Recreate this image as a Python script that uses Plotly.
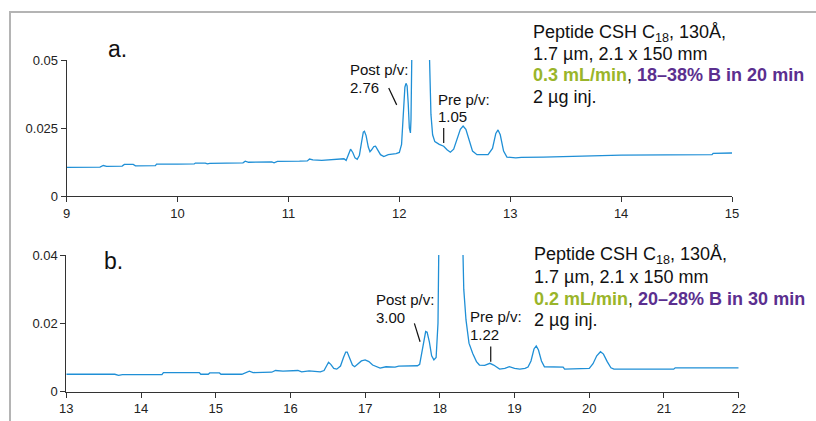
import plotly.graph_objects as go

W, H = 816, 421

# ---------------- data ----------------
time_a = [9.00, 9.30, 9.33, 9.36, 9.50, 9.52, 9.60, 9.62, 9.80, 9.81, 10.00, 10.15, 10.16,
          10.25, 10.27, 10.29, 10.59, 10.61, 10.64, 10.85, 10.87, 10.90, 11.10, 11.17, 11.19,
          11.22, 11.30, 11.45, 11.50, 11.52, 11.54, 11.56, 11.58, 11.60, 11.62, 11.64, 11.66,
          11.675, 11.685, 11.70, 11.72, 11.735, 11.75, 11.77, 11.785, 11.80, 11.83, 11.86,
          11.90, 11.97, 12.00, 12.02, 12.035, 12.05, 12.06, 12.07, 12.08, 12.09, 12.10, 12.105,
          12.115, 12.13, 12.19, 12.26, 12.27, 12.285, 12.30, 12.32, 12.36, 12.40, 12.43, 12.46,
          12.49, 12.52, 12.55, 12.575, 12.60, 12.63, 12.66, 12.70, 12.80, 12.84, 12.87, 12.89,
          12.91, 12.94, 12.97, 13.05, 13.10, 13.30, 13.70, 14.00, 14.82, 14.83, 15.00]
abs_a = [0.0105, 0.0106, 0.0112, 0.0109, 0.0110, 0.0116, 0.0116, 0.0111, 0.0112, 0.0117, 0.0117,
         0.0118, 0.0121, 0.0121, 0.0118, 0.0120, 0.0122, 0.0128, 0.0124, 0.0125, 0.0122, 0.0127,
         0.0128, 0.0129, 0.0136, 0.0133, 0.0131, 0.0137, 0.0137, 0.0131, 0.0155, 0.0172, 0.0160,
         0.0140, 0.0135, 0.0150, 0.0200, 0.0235, 0.0238, 0.0222, 0.0180, 0.0163, 0.0170, 0.0182,
         0.0183, 0.0172, 0.0152, 0.0145, 0.0152, 0.0156, 0.0160, 0.0190, 0.0300, 0.0400, 0.0414,
         0.0405, 0.0340, 0.0250, 0.0232, 0.0280, 0.0600, 0.0900, 0.1200, 0.0700, 0.0500, 0.0300,
         0.0225, 0.0200, 0.0190, 0.0183, 0.0170, 0.0161, 0.0172, 0.0205, 0.0245, 0.0257, 0.0245,
         0.0205, 0.0165, 0.0152, 0.0152, 0.0175, 0.0230, 0.0243, 0.0225, 0.0165, 0.0143, 0.0140,
         0.0142, 0.0143, 0.0147, 0.0150, 0.0152, 0.0157, 0.0158]

time_b = [13.00, 13.65, 13.70, 13.75, 14.28, 14.30, 14.78, 14.80, 14.90, 14.92, 15.05, 15.07,
          15.35, 15.45, 15.50, 15.75, 15.80, 15.90, 16.10, 16.15, 16.25, 16.40, 16.45, 16.48,
          16.51, 16.54, 16.58, 16.62, 16.67, 16.71, 16.74, 16.76, 16.79, 16.83, 16.86, 16.90,
          16.95, 17.00, 17.05, 17.10, 17.15, 17.20, 17.28, 17.40, 17.45, 17.60, 17.70, 17.73,
          17.76, 17.79, 17.81, 17.83, 17.86, 17.89, 17.92, 17.95, 17.975, 17.99, 18.01, 18.15,
          18.29, 18.31, 18.32, 18.35, 18.39, 18.44, 18.49, 18.53, 18.60, 18.67, 18.72, 18.80,
          18.87, 18.93, 19.00, 19.07, 19.14, 19.18, 19.22, 19.26, 19.29, 19.32, 19.36, 19.40,
          19.65, 19.67, 20.00, 20.05, 20.10, 20.15, 20.19, 20.24, 20.29, 20.33, 21.13, 21.15,
          22.00]
abs_b = [0.0051, 0.0051, 0.0048, 0.0050, 0.0050, 0.0056, 0.0056, 0.0051, 0.0051, 0.0055, 0.0055,
         0.0051, 0.0051, 0.0060, 0.0056, 0.0057, 0.0062, 0.0060, 0.0062, 0.0058, 0.0061, 0.0058,
         0.0062, 0.0075, 0.0086, 0.0080, 0.0068, 0.0066, 0.0075, 0.0100, 0.0116, 0.0116, 0.0100,
         0.0078, 0.0073, 0.0080, 0.0090, 0.0093, 0.0088, 0.0078, 0.0073, 0.0069, 0.0073, 0.0072,
         0.0075, 0.0076, 0.0076, 0.0080, 0.0115, 0.0162, 0.0176, 0.0174, 0.0145, 0.0105, 0.0093,
         0.0100, 0.0200, 0.0500, 0.0800, 0.1500, 0.0600, 0.0400, 0.0300, 0.0210, 0.0142, 0.0112,
         0.0088, 0.0078, 0.0077, 0.0083, 0.0078, 0.0066, 0.0068, 0.0073, 0.0068, 0.0066, 0.0068,
         0.0072, 0.0090, 0.0125, 0.0134, 0.0122, 0.0090, 0.0073, 0.0072, 0.0066, 0.0068, 0.0082,
         0.0105, 0.0117, 0.0110, 0.0088, 0.0070, 0.0066, 0.0066, 0.0070, 0.0070]

ticks_a_x = [9, 10, 11, 12, 13, 14, 15]
ticks_a_y = [0, 0.025, 0.05]
ticklabels_a_y = ["0", "0.025", "0.05"]
ticks_b_x = [13, 14, 15, 16, 17, 18, 19, 20, 21, 22]
ticks_b_y = [0, 0.02, 0.04]
ticklabels_b_y = ["0", "0.02", "0.04"]

info_a = ["Peptide CSH C<sub>18</sub>, 130Å,", "1.7 µm, 2.1 x 150 mm",
          ("0.3 mL/min", "18–38% B in 20 min"), "2 µg inj."]
info_b = ["Peptide CSH C<sub>18</sub>, 130Å,", "1.7 µm, 2.1 x 150 mm",
          ("0.2 mL/min", "20–28% B in 30 min"), "2 µg inj."]

# ---------------- layout helpers (window pixel -> paper) ----------------
def px(x):
    return x / W

def py(y):
    return 1 - y / H

LINE = "#1f8fd6"
AX = "#333333"
FONT = "Liberation Sans, Arial, sans-serif"
GREEN = "#9ab52a"
PURPLE = "#5b2f8f"

fig = go.Figure()
fig.add_trace(go.Scatter(x=time_a, y=abs_a, mode="lines", line=dict(color=LINE, width=1.3),
                         xaxis="x", yaxis="y", showlegend=False, hoverinfo="skip"))
fig.add_trace(go.Scatter(x=time_b, y=abs_b, mode="lines", line=dict(color=LINE, width=1.3),
                         xaxis="x2", yaxis="y2", showlegend=False, hoverinfo="skip"))

axis_common = dict(showline=True, linecolor=AX, linewidth=1, ticks="outside", ticklen=5,
                   tickcolor=AX, tickwidth=1, showgrid=False, zeroline=False, automargin=False,
                   tickfont=dict(family=FONT, size=13, color="#222222"), fixedrange=True)

fig.update_layout(
    width=W, height=H, margin=dict(l=0, r=0, t=0, b=0, pad=0),
    paper_bgcolor="white", plot_bgcolor="white",
    font=dict(family=FONT, color="#111111"),
    xaxis=dict(domain=[px(66.7), px(732)], range=[9, 15], tickvals=ticks_a_x,
               anchor="y", **axis_common),
    yaxis=dict(domain=[py(196), py(60)], range=[0, 0.05], tickvals=ticks_a_y,
               ticktext=ticklabels_a_y, anchor="x", **axis_common),
    xaxis2=dict(domain=[px(66.3), px(738.7)], range=[13, 22], tickvals=ticks_b_x,
                anchor="y2", **axis_common),
    yaxis2=dict(domain=[py(391.7), py(255)], range=[0, 0.04], tickvals=ticks_b_y,
                ticktext=ticklabels_b_y, anchor="x2", **axis_common),
)

shapes = []
# outer gray frame
shapes.append(dict(type="rect", xref="paper", yref="paper", x0=px(10), x1=px(900),
                   y0=py(480), y1=py(12), line=dict(color="#b4b4b4", width=2),
                   fillcolor="rgba(0,0,0,0)", layer="below"))
# pointer lines (data coords)
shapes.append(dict(type="line", xref="x", yref="y", x0=11.904, y0=0.0397, x1=11.976, y1=0.0335,
                   line=dict(color="#111111", width=1.2)))
shapes.append(dict(type="line", xref="x", yref="y", x0=12.40, y0=0.0250, x1=12.40, y1=0.0195,
                   line=dict(color="#111111", width=1.2)))
shapes.append(dict(type="line", xref="x2", yref="y2", x0=17.659, y0=0.0200, x1=17.735, y1=0.0146,
                   line=dict(color="#111111", width=1.2)))
shapes.append(dict(type="line", xref="x2", yref="y2", x0=18.681, y0=0.0132, x1=18.681, y1=0.0088,
                   line=dict(color="#111111", width=1.2)))
fig.update_layout(shapes=shapes)

ann = []

def text(x, y, s, size, color="#111111", xanchor="left"):
    ann.append(dict(xref="paper", yref="paper", x=px(x), y=py(y), text=s, showarrow=False,
                    xanchor=xanchor, yanchor="middle", align="left", borderpad=0,
                    font=dict(family=FONT, size=size, color=color)))

text(107, 49, "a.", 23)
text(103, 261, "b.", 23)

# top annotations
text(349, 69, "Post p/v:", 15)
text(349, 87.5, "2.76", 15)
text(437, 99, "Pre p/v:", 15)
text(437, 116.5, "1.05", 15)
# bottom annotations
text(375, 299, "Post p/v:", 15)
text(375, 317.5, "3.00", 15)
text(469, 316, "Pre p/v:", 15)
text(469, 334, "1.22", 15)

def info(x, ys, lines):
    for y, ln in zip(ys, lines):
        if isinstance(ln, tuple):
            s = (f"<b><span style='color:{GREEN}'>{ln[0]}</span></b>, "
                 f"<b><span style='color:{PURPLE}'>{ln[1]}</span></b>")
        else:
            s = ln
        text(x, y, s, 18)

info(531.5, [33, 54, 75, 97], info_a)
info(532.5, [255, 277, 298.5, 320], info_b)

fig.update_layout(annotations=ann)
fig.write_html("out.html", config={"displayModeBar": False},
               post_script="document.body.style.margin='0';"
                           "document.body.style.overflow='hidden';")
